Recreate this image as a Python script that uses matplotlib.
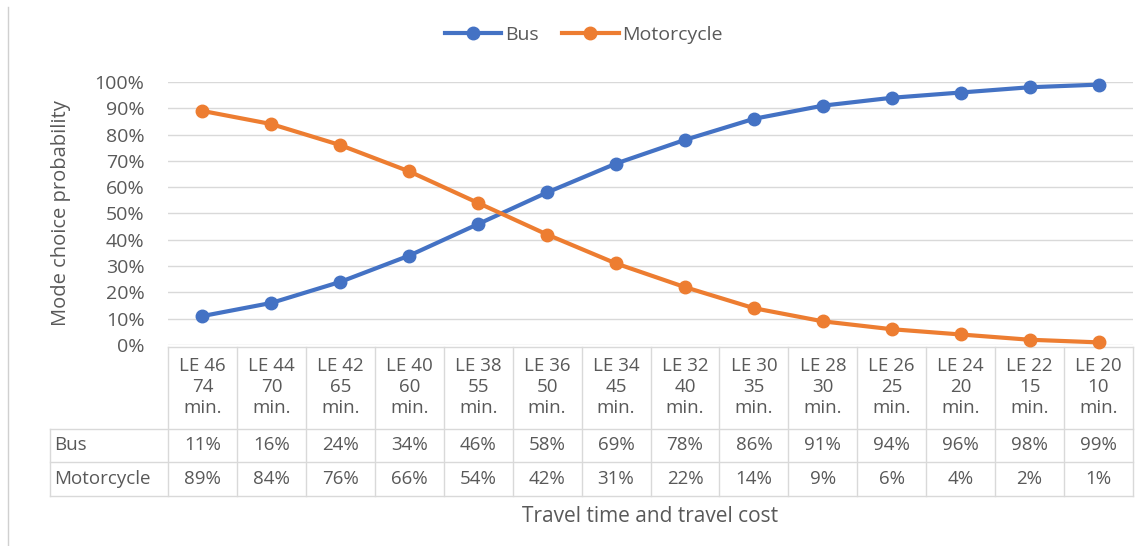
import matplotlib
matplotlib.use("Agg")
import matplotlib.pyplot as plt
from matplotlib.lines import Line2D

categories = ["LE 46\n74\nmin.", "LE 44\n70\nmin.", "LE 42\n65\nmin.", "LE 40\n60\nmin.",
              "LE 38\n55\nmin.", "LE 36\n50\nmin.", "LE 34\n45\nmin.", "LE 32\n40\nmin.",
              "LE 30\n35\nmin.", "LE 28\n30\nmin.", "LE 26\n25\nmin.", "LE 24\n20\nmin.",
              "LE 22\n15\nmin.", "LE 20\n10\nmin."]
bus = [11, 16, 24, 34, 46, 58, 69, 78, 86, 91, 94, 96, 98, 99]
motorcycle = [89, 84, 76, 66, 54, 42, 31, 22, 14, 9, 6, 4, 2, 1]
series_names = ["Bus", "Motorcycle"]
y_ticks = [0, 10, 20, 30, 40, 50, 60, 70, 80, 90, 100]

plt.rcParams['font.family'] = ['Open Sans', 'DejaVu Sans']
TXT = "#595959"
GRID = "#D9D9D9"
BLUE = "#4472C4"
ORANGE = "#ED7D31"
FS = 13.5

W, H = 1147, 546
fig = plt.figure(figsize=(W / 100, H / 100), dpi=100)
L, R, T, B = 168, 1133, 82, 345
ax = fig.add_axes([L / W, 1 - B / H, (R - L) / W, (B - T) / H])
n = len(categories)
xs = list(range(n))
ax.set_xlim(-0.5, n - 0.5)
ax.set_ylim(0, 100)
for s in ax.spines.values():
    s.set_visible(False)
ax.set_xticks([])
ax.set_yticks(y_ticks)
ax.set_yticklabels([f"{v}%" for v in y_ticks], fontsize=14, color=TXT)
ax.tick_params(axis='y', length=0, pad=17)
ax.yaxis.grid(True, color=GRID, linewidth=1)
ax.set_axisbelow(True)

ax.plot(xs, bus, color=BLUE, lw=3, marker='o', ms=9, clip_on=False, zorder=3, label=series_names[0])
ax.plot(xs, motorcycle, color=ORANGE, lw=3, marker='o', ms=9, clip_on=False, zorder=3, label=series_names[1])

def fy(py):
    return (B - py) / (B - T)

tr = ax.get_xaxis_transform()
colw = (R - L) / n
left_x = -0.5 - (L - 50) / colw
top_y, h1, h2, h3 = 347, 429, 462, 496
kw = dict(transform=tr, color=GRID, lw=1, clip_on=False)
ax.add_line(Line2D([-0.5, n - 0.5], [fy(top_y)] * 2, **kw))
for py in (h1, h2, h3):
    ax.add_line(Line2D([left_x, n - 0.5], [fy(py)] * 2, **kw))
for i in range(n + 1):
    ax.add_line(Line2D([i - 0.5] * 2, [fy(top_y), fy(h3)], **kw))
ax.add_line(Line2D([left_x] * 2, [fy(h1), fy(h3)], **kw))

for i, c in enumerate(categories):
    ax.text(i, fy((top_y + h1) / 2 - 1), c, transform=tr, ha='center', va='center',
            fontsize=FS, color=TXT, linespacing=1.2)
    ax.text(i, fy((h1 + h2) / 2), f"{bus[i]}%", transform=tr, ha='center', va='center',
            fontsize=FS, color=TXT)
    ax.text(i, fy((h2 + h3) / 2), f"{motorcycle[i]}%", transform=tr, ha='center', va='center',
            fontsize=FS, color=TXT)
ax.text(left_x + 0.06, fy((h1 + h2) / 2), series_names[0], transform=tr, ha='left', va='center',
        fontsize=FS, color=TXT)
ax.text(left_x + 0.06, fy((h2 + h3) / 2), series_names[1], transform=tr, ha='left', va='center',
        fontsize=FS, color=TXT)

fig.text(650 / W, 1 - 516 / H, "Travel time and travel cost", ha='center', va='center',
         fontsize=15, color=TXT)
fig.text(61 / W, 1 - 213 / H, "Mode choice probability", ha='center', va='center',
         rotation=90, fontsize=14.5, color=TXT)

leg = fig.legend(loc='center', bbox_to_anchor=(584 / W, 1 - 35 / H), ncol=2, frameon=False,
                 fontsize=14, handlelength=2.9, handletextpad=0.2, columnspacing=1.2)
for t in leg.get_texts():
    t.set_color(TXT)

fig.add_artist(Line2D([8 / W, 8 / W], [0, 1 - 7 / H], transform=fig.transFigure, color="#D0D0D0", lw=1))

fig.savefig("out.png", dpi=100, facecolor='white')
